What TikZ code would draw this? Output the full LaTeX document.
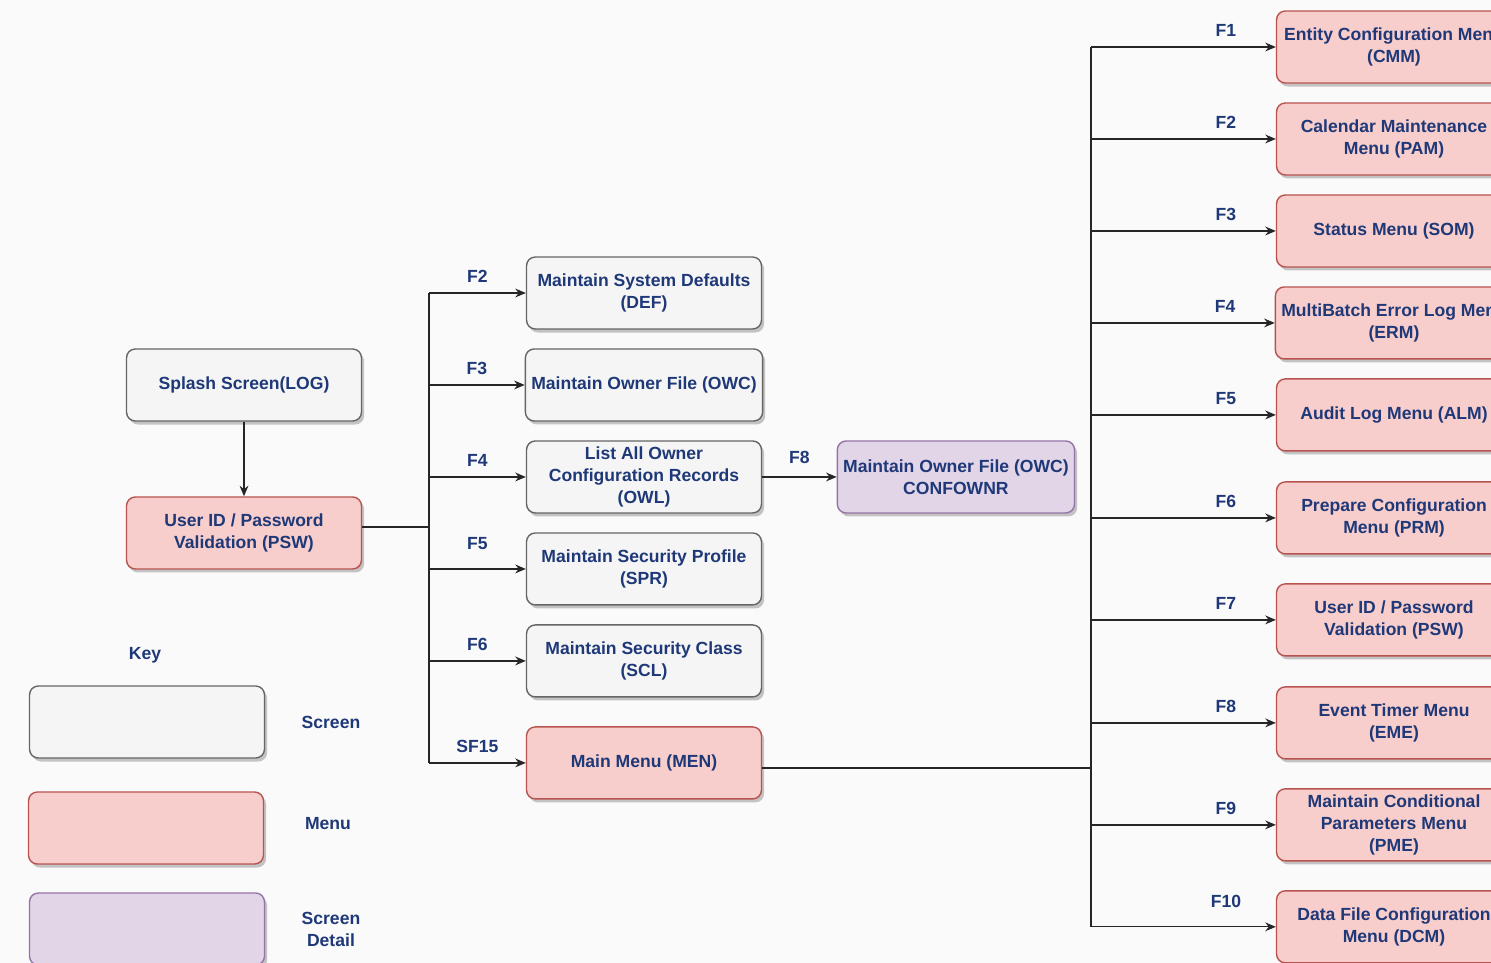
\documentclass[tikz,border=0pt]{standalone}
\usepackage{fontspec}
\setmainfont{Liberation Sans}
\usetikzlibrary{positioning,shadows,arrows.meta}
\definecolor{labelblue}{RGB}{30,56,120}
\definecolor{screenfill}{HTML}{F5F5F5}
\definecolor{screenline}{HTML}{666666}
\definecolor{menufill}{HTML}{F8CECC}
\definecolor{menuline}{HTML}{B85450}
\definecolor{detailfill}{HTML}{E1D5E7}
\definecolor{detailline}{HTML}{9673A6}
\begin{document}
\begin{tikzpicture}[
    x=0.02cm, y=-0.02cm,
    node distance=1.84cm,
    font=\fontsize{10}{12.5}\selectfont\bfseries,
    every node/.style={text=labelblue},
    basebox/.style={rectangle, rounded corners=5pt, line width=0.8pt, minimum width=4.7cm, minimum height=1.44cm, align=center,
        drop shadow={shadow xshift=1.5pt, shadow yshift=-2pt, fill=black, opacity=0.22}},
    screen/.style={basebox, draw=screenline, fill=screenfill},
    menu/.style={basebox, draw=menuline, fill=menufill},
    detail/.style={basebox, draw=detailline, fill=detailfill},
    arrow/.style={-{Stealth[length=6pt,width=5pt]}, line width=0.75pt, black!85},
    link/.style={line width=0.75pt, black!85}
]
    \fill[white!98!black] (0,0) rectangle (1491,963);
    \useasboundingbox (0,0) rectangle (1491,963);

    % login path
    \node[screen] (log) at (244,385) {Splash Screen(LOG)};
    \node[menu, below of=log, node distance=2.96cm] (psw) {User ID / Password\\Validation (PSW)};

    % second column
    \node[screen] (def) at (644,293) {Maintain System Defaults\\(DEF)};
    \node[screen, below of=def] (owc) {Maintain Owner File (OWC)};
    \node[screen, below of=owc] (owl) {List All Owner\\Configuration Records\\(OWL)};
    \node[screen, below of=owl] (spr) {Maintain Security Profile\\(SPR)};
    \node[screen, below of=spr] (scl) {Maintain Security Class\\(SCL)};
    \node[menu, below of=scl, node distance=2.04cm] (men) {Main Menu (MEN)};
    \node[detail, right of=owl, node distance=6.24cm] (conf) {Maintain Owner File (OWC)\\CONFOWNR};

    % main menu column
    \node[menu] (cmm) at (1394,47) {Entity Configuration Menu\\(CMM)};
    \node[menu, below of=cmm] (pam) {Calendar Maintenance\\Menu (PAM)};
    \node[menu, below of=pam] (som) {Status Menu (SOM)};
    \node[menu, below of=som] (erm) {MultiBatch Error Log Menu\\(ERM)};
    \node[menu, below of=erm] (alm) {Audit Log Menu (ALM)};
    \node[menu, below of=alm, node distance=2.06cm] (prm) {Prepare Configuration\\Menu (PRM)};
    \node[menu, below of=prm, node distance=2.04cm] (pswb) {User ID / Password\\Validation (PSW)};
    \node[menu, below of=pswb, node distance=2.06cm] (eme) {Event Timer Menu\\(EME)};
    \node[menu, below of=eme, node distance=2.04cm] (pme) {Maintain Conditional\\Parameters Menu\\(PME)};
    \node[menu, below of=pme, node distance=2.04cm] (dcm) {Data File Configuration\\Menu (DCM)};

    % key
    \node (keytitle) at (145,655) {Key};
    \node[screen] (keyscreen) at (147,722) {};
    \node[menu] (keymenu) at (146,828) {};
    \node[detail] (keydetail) at (147,929) {};
    \node[right of=keyscreen, node distance=3.68cm] (keyscreentext) {Screen};
    \node[right of=keymenu, node distance=3.64cm, yshift=2.3pt] (keymenutext) {Menu};
    \node[right of=keydetail, node distance=3.68cm, align=center] (keydetailtext) {Screen\\Detail};

    % connectors
    \coordinate (lbus) at (429,527);
    \coordinate (rbus) at (1091,768);
    \draw[arrow] (log) -- (psw);
    \draw[link] (psw.east |- lbus) -- (lbus);
    \draw[link] (def.west -| lbus) -- (men.west -| lbus);
    \draw[arrow] (def.west -| lbus) -- node[above=2pt] {F2} (def);
    \draw[arrow] (owc.west -| lbus) -- node[above=2pt] {F3} (owc);
    \draw[arrow] (owl.west -| lbus) -- node[above=2pt] {F4} (owl);
    \draw[arrow] (spr.west -| lbus) -- node[above=7.5pt] {F5} (spr);
    \draw[arrow] (scl.west -| lbus) -- node[above=2pt] {F6} (scl);
    \draw[arrow] (men.west -| lbus) -- node[above=2pt] {SF15} (men);
    \draw[arrow] (owl) -- node[above=4pt] {F8} (conf);

    \draw[link] (men.east |- rbus) -- (rbus);
    \draw[link] (cmm.west -| rbus) -- (dcm.west -| rbus);
    \draw[arrow] (cmm.west -| rbus) -- node[above=2pt, pos=0.73] {F1} (cmm);
    \draw[arrow] (pam.west -| rbus) -- node[above=2pt, pos=0.73] {F2} (pam);
    \draw[arrow] (som.west -| rbus) -- node[above=2pt, pos=0.73] {F3} (som);
    \draw[arrow] (erm.west -| rbus) -- node[above=2pt, pos=0.73] {F4} (erm);
    \draw[arrow] (alm.west -| rbus) -- node[above=2pt, pos=0.73] {F5} (alm);
    \draw[arrow] (prm.west -| rbus) -- node[above=2pt, pos=0.73] {F6} (prm);
    \draw[arrow] (pswb.west -| rbus) -- node[above=2pt, pos=0.73] {F7} (pswb);
    \draw[arrow] (eme.west -| rbus) -- node[above=2pt, pos=0.73] {F8} (eme);
    \draw[arrow] (pme.west -| rbus) -- node[above=2pt, pos=0.73] {F9} (pme);
    \draw[arrow] (dcm.west -| rbus) -- node[above=7pt, pos=0.73] {F10} (dcm);
\end{tikzpicture}
\end{document}
